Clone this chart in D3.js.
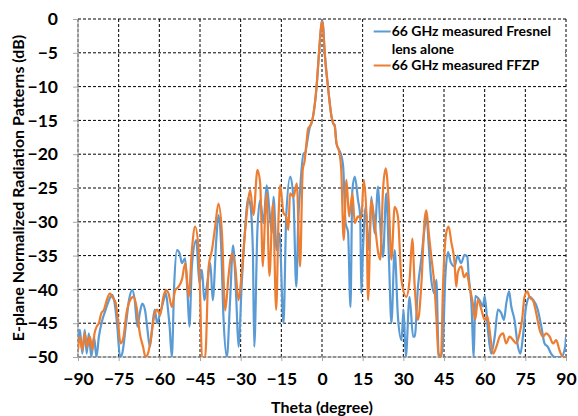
<!DOCTYPE html>
<html>
<head>
<meta charset="utf-8">
<script src="https://cdn.jsdelivr.net/npm/d3@7"></script>
<style>
  html, body { margin: 0; padding: 0; background: #fff; }
  svg { display: block; font-family: Lato, "Open Sans", sans-serif; }
</style>
</head>
<body>
<svg id="chart" width="578" height="416"></svg>
<script>
// ---- Data ----
const xTicks = [-90, -75, -60, -45, -30, -15, 0, 15, 30, 45, 60, 75, 90];
const yTicks = [0, -5, -10, -15, -20, -25, -30, -35, -40, -45, -50];
const seriesNames = ["66 GHz measured Fresnel lens alone", "66 GHz measured FFZP"];

const fresnelTheta = [-90,-89.3,-88.4,-87.5,-86.8,-86,-85.1,-84.1,-83.2,-82.3,-81,-79.8,-78.6,-77.4,-76.5,-75.5,-74.5,-73.7,-72.4,-71.2,-70,-69.1,-68.1,-67.2,-66.3,-65.3,-64.5,-63.5,-62.6,-61.7,-60.8,-59.7,-58.4,-57.6,-56.8,-56.2,-55.4,-54.5,-53.5,-52.5,-51.7,-50.5,-49.6,-48.9,-48,-46.4,-45.2,-44.3,-43.4,-42.5,-41.2,-40.3,-39,-38.2,-37.3,-36.3,-35.1,-33.9,-32.8,-31.6,-30.8,-29.6,-28.3,-27.3,-26.5,-25.5,-25,-23.8,-22.8,-21.6,-20.4,-19.4,-18.5,-17.9,-16.7,-15.7,-14.2,-13.2,-11.7,-10.5,-9.5,-8.7,-8.1,-6.8,-6.2,-5.6,-4.5,-3.9,-3.3,-2.0,-1.1,-0.4,0,0.4,1.0,2.2,3.5,4.1,4.7,5.3,6.3,6.8,7.8,8.7,9.6,10.5,11.2,12.1,13.3,14.1,14.5,15.1,16.1,17.3,18.2,19.4,20.7,21.3,22.5,23.7,24.7,25.6,26.8,28,29.3,30.1,30.9,32.3,33.6,34.2,35.4,36.6,37.9,38.5,39.4,40.3,41.5,42.2,43,43.8,44.6,45.5,46.5,47.5,48.9,50,51.3,52.6,53.6,54.1,55.1,56,56.5,58,59.4,60,61.2,62.4,63.7,64.9,66.1,67.1,68,69,69.8,71,72.3,73.2,74.1,75.3,76.6,77.8,79.6,80.9,82.1,83.3,84.5,85.8,88.2,89.7,90];
const fresnelDb = [-47.5,-46,-49.5,-46,-49.5,-46.5,-50,-47,-50,-47,-44.5,-43,-41.6,-40.8,-42,-45.5,-50,-49.5,-45.5,-41.6,-40.1,-41.5,-45.5,-43.5,-42.1,-43,-45.5,-48.5,-45.5,-43,-45,-43.5,-41.6,-40.5,-43,-45.5,-50,-39.1,-34.2,-34.7,-36.1,-35.4,-40.6,-45.5,-36.6,-32.7,-39.1,-37.1,-41.6,-39.6,-36.1,-41.6,-32.7,-29,-32.7,-44.5,-50,-41.6,-33.5,-41.6,-48.5,-39.1,-30.7,-26.5,-27.3,-34.2,-48.5,-31,-26.8,-30.2,-24.6,-28.3,-31.7,-26.3,-34.2,-31.7,-45,-29.2,-23.3,-26.8,-39.6,-29.2,-25.3,-19.9,-19.8,-18.5,-16,-15.4,-14.4,-10,-5,-1.5,-0.2,-1,-5,-10,-14.4,-15.4,-15.7,-18.4,-19.4,-19.8,-21.8,-30.2,-31.5,-42.6,-25.3,-23.3,-26.8,-29.2,-40.6,-34.2,-27.8,-34.2,-26.3,-31.7,-24.8,-29.2,-35.2,-25.8,-35.6,-45,-34.2,-44,-47.5,-43,-50,-41.1,-47,-47,-39.6,-35.6,-30.7,-29,-33.7,-38.6,-40.6,-38.6,-49.5,-50,-48,-38,-34.5,-36,-36.6,-35,-36.1,-34.9,-35.2,-38,-42,-50,-41,-41.5,-42.5,-41,-46,-49.5,-47,-43,-43.5,-44.5,-42,-40.3,-42.5,-44.5,-48.5,-49.5,-47,-42.5,-41.1,-41.5,-43,-45.5,-48,-48.5,-49.5,-50,-50,-48.5,-47];

const ffzpTheta = [-90,-89.3,-88.4,-87.5,-86.6,-85.6,-84.7,-83.9,-83.1,-82.3,-81.4,-80.4,-79.4,-78.2,-77.4,-76.1,-75.3,-74.3,-73.3,-72.1,-70.8,-69.6,-68.4,-67.2,-66,-65.1,-64.2,-63,-61.7,-60.8,-59.7,-58.5,-57.6,-56.6,-55.4,-54.1,-52.9,-51.7,-50.4,-49.2,-48,-46.8,-45.5,-44.9,-44.3,-43.1,-41.8,-40.6,-39.4,-38.2,-36.9,-35.7,-34.5,-33.3,-32,-30.8,-29.7,-28.5,-27.2,-26.5,-25.3,-23.8,-22.8,-21.8,-21,-20.4,-19.4,-18.1,-16.9,-16,-15.4,-14.2,-13.2,-12.4,-11.8,-10.5,-9.3,-8.1,-7.1,-6.4,-5.75,-5.1,-4.5,-3.9,-3.3,-2.0,-1.1,-0.4,0,0.4,1.0,2.2,3.5,4.1,4.7,5.3,6.5,7.1,8.0,9.0,10,11.2,12.1,13.3,14.5,15.4,16.4,17,18.2,19.4,20.7,21.5,22.5,23.5,24.6,25.6,26.8,28,29.3,31.1,32.3,33.3,34.2,35.4,36.6,37.9,38.5,39.4,40.3,41.5,42.3,43,43.9,44.6,45.8,46.7,47.7,48.9,49.5,50.1,51.4,52.4,53.4,54.4,55.6,56.5,57.5,58.8,60,61,61.8,63.1,64.3,65.5,66.8,67.9,69.2,70.5,71.7,72.9,73.8,74.7,75.7,76.6,77.8,79,80.3,81.5,82.7,84,85.2,86.4,87.6,88.9,90];
const ffzpDb = [-49,-47,-49,-46.5,-48.5,-47,-49,-46.5,-45.5,-45,-43.5,-43,-41.6,-40.6,-41.1,-42,-44.5,-48,-47.2,-43.5,-41.6,-41.1,-42.6,-46.5,-48.5,-50,-49.5,-47,-43.5,-43,-43.8,-41.1,-40.1,-40.6,-42.6,-40.1,-39.6,-38.6,-36.1,-41.1,-34.2,-30.7,-34.2,-41.6,-50,-50,-36.6,-34.2,-30.7,-27.3,-31.7,-43.1,-38.1,-34.7,-36.6,-41.6,-38,-32,-26.8,-25.3,-29,-22.3,-24.3,-36.6,-29.2,-25.8,-38,-27.3,-43,-29,-24.6,-28.7,-29.2,-31.2,-25.8,-26.3,-24.3,-36.6,-22.3,-21,-18.4,-16.2,-15.9,-15.4,-14.4,-10,-5,-1.3,-0.4,-1.2,-5,-10,-14.4,-15.4,-15.9,-18.2,-19.9,-22.3,-32.7,-23.8,-29.2,-25.8,-30.2,-29.2,-29.5,-23.8,-29.2,-41.6,-26.8,-30,-34.5,-35.6,-25.3,-22.1,-27,-35.6,-27.8,-29.2,-38.6,-41.1,-38.6,-32.5,-39.6,-44.5,-39.6,-29.5,-28.3,-31.7,-35.1,-39.6,-45,-50,-50,-40,-31.7,-30.7,-33,-36.1,-39.6,-37.5,-36.6,-38.2,-37.6,-39.6,-42,-44.5,-41.5,-43,-44.5,-44,-46,-49.5,-48.5,-47,-46.5,-48,-47,-47.5,-48,-46.5,-44.5,-41.1,-40.3,-41.2,-41.6,-43.5,-46,-47,-46.5,-47,-48,-47.5,-49,-50,-50];

// ---- Layout ----
const W = 578, H = 416;
const margin = { left: 78, right: 12, top: 19, bottom: 59 };
const iw = W - margin.left - margin.right;
const ih = H - margin.top - margin.bottom;

const svg = d3.select("#chart");
const g = svg.append("g").attr("transform", `translate(${margin.left},${margin.top})`);

const x = d3.scaleLinear().domain([-90, 90]).range([0, iw]);
const y = d3.scaleLinear().domain([-50, 0]).range([ih, 0]);

// Grid lines (dashed, black)
g.append("g").selectAll("line").data(xTicks).join("line")
  .attr("x1", d => x(d)).attr("x2", d => x(d))
  .attr("y1", 0).attr("y2", ih)
  .attr("stroke", "#000").attr("stroke-width", 1).attr("stroke-dasharray", "3,2");
g.append("g").selectAll("line").data(yTicks).join("line")
  .attr("x1", 0).attr("x2", iw)
  .attr("y1", d => y(d)).attr("y2", d => y(d))
  .attr("stroke", "#000").attr("stroke-width", 1).attr("stroke-dasharray", "3,2");

// Axes
const xAxis = d3.axisBottom(x).tickValues(xTicks).tickSize(4).tickPadding(12);
const yAxis = d3.axisLeft(y).tickValues(yTicks).tickSize(5).tickPadding(15);

const gx = g.append("g").attr("transform", `translate(0,${ih})`).call(xAxis);
const gy = g.append("g").call(yAxis);
[gx, gy].forEach(a => {
  a.select(".domain").attr("stroke", "#a6a6a6").attr("stroke-width", 1.2);
  a.selectAll(".tick line").attr("stroke", "#a6a6a6");
  a.selectAll(".tick text").attr("fill", "#000")
    .attr("font-family", "Lato, 'Open Sans', sans-serif")
    .attr("font-weight", "bold").attr("font-size", 17.5);
});
gx.select(".domain").attr("d", `M0.5,0H${iw}`);
gy.select(".domain").attr("d", `M0,0.5V${ih}`);

// Clip
svg.append("defs").append("clipPath").attr("id", "clip")
  .append("rect").attr("x", 0).attr("y", -2).attr("width", iw).attr("height", ih + 2);

const line = d3.line().x(d => x(d[0])).y(d => y(d[1])).curve(d3.curveMonotoneX);
const fresnel = fresnelTheta.map((t, i) => [t, fresnelDb[i]]);
const ffzp = ffzpTheta.map((t, i) => [t, ffzpDb[i]]);

const colors = ["#5B9BD5", "#ED7D31"];
const plot = g.append("g").attr("clip-path", "url(#clip)");
plot.append("path").datum(fresnel).attr("d", line)
  .attr("fill", "none").attr("stroke", colors[0]).attr("stroke-width", 2.2).attr("stroke-linejoin", "round");
plot.append("path").datum(ffzp).attr("d", line)
  .attr("fill", "none").attr("stroke", colors[1]).attr("stroke-width", 2.2).attr("stroke-linejoin", "round");

// Legend
const lg = g.append("g");
lg.append("rect").attr("x", x(15) + 1).attr("y", 1).attr("width", x(90) - x(15) - 2).attr("height", 66)
  .attr("fill", "#fff");
const legendRows = [
  { color: colors[0], lines: ["66 GHz measured Fresnel", "lens alone"], y: 17 },
  { color: colors[1], lines: ["66 GHz measured FFZP"], y: 51 }
];
const lx = x(15) + 11;
legendRows.forEach(r => {
  lg.append("line").attr("x1", lx).attr("x2", lx + 17).attr("y1", r.y - 4.5).attr("y2", r.y - 4.5)
    .attr("stroke", r.color).attr("stroke-width", 2);
  r.lines.forEach((t, i) => {
    lg.append("text").attr("x", lx + 18).attr("y", r.y + i * 18)
      .attr("font-weight", "bold").attr("font-size", 14).attr("fill", "#000").text(t);
  });
});

// Axis titles
svg.append("text").attr("x", margin.left + iw / 2).attr("y", 413)
  .attr("text-anchor", "middle").attr("font-weight", "bold").attr("font-size", 16).text("Theta (degree)");
svg.append("text").attr("transform", `translate(24,${margin.top + ih / 2}) rotate(-90)`)
  .attr("text-anchor", "middle").attr("font-weight", "bold").attr("font-size", 16)
  .text("E-plane Normalized Radiation Patterns (dB)");
</script>
</body>
</html>
